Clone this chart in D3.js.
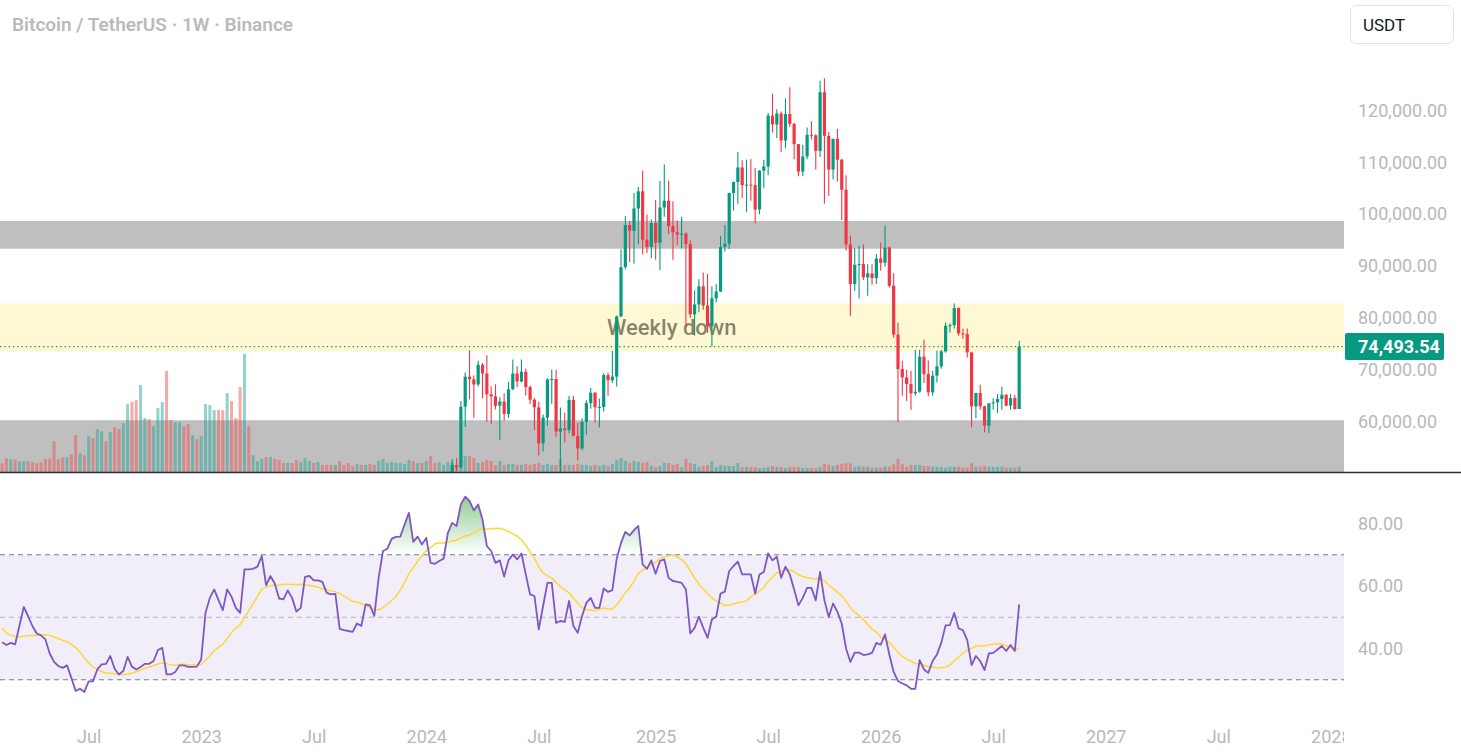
<!DOCTYPE html>
<html>
<head>
<meta charset="utf-8">
<script src="https://cdn.jsdelivr.net/npm/d3@7"></script>
<style>
  html, body { margin: 0; padding: 0; background: #fff; overflow: hidden; }
  svg { display: block; font-family: Roboto, "Noto Sans", sans-serif; }
</style>
</head>
<body>
<script>
// ---- data (BTC/USDT weekly, Binance) ----
const title = "Bitcoin / TetherUS · 1W · Binance";
const firstWeek = "2022-02-14";        // first weekly bar on screen
const candleFirstWeek = "2024-02-12";  // first bar whose candle reaches the visible price range

// weekly volume, thousand BTC
const volume = [
  87,137,127,127,107,107,107,97,87,97,127,137,307,127,147,147,177,367,187,167,
  357,337,427,407,307,397,447,427,487,677,697,717,867,537,527,457,637,697,1007,517,
  497,497,457,477,367,327,357,677,667,617,617,617,787,707,537,847,1177,457,167,107,
  130,150,150,130,120,90,90,90,120,100,140,110,90,100,70,70,70,70,110,70,
  90,60,80,70,70,80,70,110,130,90,100,90,90,80,120,110,90,90,110,160,
  90,100,70,100,
  100,70,120,160,160,140,90,100,120,110,70,110,70,80,80,70,70,80,70,80,
  90,70,80,70,70,130,70,70,70,80,70,70,60,70,60,70,60,80,120,140,
  110,90,110,100,90,100,60,50,60,90,90,70,80,50,130,90,80,50,60,70,
  110,50,70,60,60,60,90,50,50,50,50,40,40,50,60,50,50,40,50,50,
  50,40,40,40,40,50,80,70,60,70,80,
  87,87,53,60,53,53,43,43,43,53,53,77,130,77,53,70,70,70,60,60,
  53,53,53,43,53,53,53,43,43,87,53,53,60,53,53,53,53,43,43,43,53
];
// up(1)/down(0) weeks before the candles enter the price range
const earlyUp = [
  0,0,1,0,1,1,0,0,0,0, 0,0,0,0,0,1,0,0,1,0, 1,0,1,1,0,1,0,0,1,1,
  0,0,1,1,0,1,1,1,0,0, 1,1,0,0,1,0,1,1,1,1, 0,0,1,0,0,0,1,0,1,1,
  1,0,1,0,0,0,1,0,0,1, 1,1,0,1,0,0,0,1,0,0, 0,0,1,0,1,0,0,1,1,1,
  1,1,1,1,1,0,1,0,1,0, 0,1,1,1
];

const open = [
  48300,51660,51250,62900,68700,68200,67200,71000,69300,65300,
  64900,63100,63900,61500,66270,69300,67760,69650,66680,64260,
  62770,55860,60800,68160,68250,58120,58710,58430,64220,57300,
  54870,59990,63600,65600,62800,62850,69000,68000,68700,80300,
  89800,97900,96800,101100,104400,95100,93700,98300,94500,101300,
  102600,97700,96500,96100,96250,94270,80700,82600,86100,82400,
  78400,83800,85100,93700,94300,104100,106200,109000,105600,105700,
  105600,100900,108400,109200,119000,117300,119400,114200,119300,117400,
  113500,108200,111100,115300,115200,112200,123500,115100,108600,114500,
  110500,104700,94200,86530,90250,90400,87820,88590,87690,91470,
  90640,93590,86210,76800,70160,68560,67270,65480,65800,72540,
  69200,65670,68880,70680,73560,78510,78620,81910,77030,76910,
  73370,62980,65540,62980,59260,63560,63750,64390,65220,63110,
  64580,62470
];
const high = [
  52820,52990,64000,69500,73780,68920,71770,71340,72800,66870,
  67230,64730,65500,67700,71980,70690,72000,70200,66990,64530,
  63860,61420,68370,70080,70000,62750,61800,65000,64960,59800,
  60660,64130,66500,65750,64480,69400,69500,73620,80500,93270,
  99590,98700,104090,105250,108350,99960,99000,102720,106420,109590,
  106460,102500,98800,99500,96500,95000,85300,87450,88770,88500,
  86100,86500,95800,97900,104150,106300,111980,110400,110500,110600,
  108900,108500,110500,119500,123220,120200,119800,122300,124470,117600,
  113500,113400,116700,117900,115400,125700,126200,115900,114600,116400,
  110700,107500,95840,93500,93910,94230,90380,90380,92310,94560,
  97770,93800,88600,79150,71770,70030,69840,73880,73880,75810,
  71800,69840,73690,73900,79150,79000,82810,82000,78000,78000,
  73500,65600,67140,63110,63600,64520,65350,66760,65300,65350,
  65220,75600
];
const low = [
  47700,50520,50900,59000,64300,60780,66800,64490,60000,59600,
  62390,56550,60190,60750,66060,66670,67610,65080,63380,58400,
  53490,54260,59200,63460,57120,49000,56080,57790,57200,52550,
  54500,57500,62500,59830,58900,62000,65000,67500,66800,80200,
  89400,90800,90500,94200,92230,92500,91500,91200,89260,99500,
  96200,91230,94100,93400,78260,80000,76610,81100,81600,77100,
  74510,83000,85000,92800,93300,100700,102000,103100,100400,102600,
  98200,100000,105000,107500,115700,114700,112000,112700,116800,110600,
  107300,107300,110600,114400,108600,111000,102000,103500,106700,106300,
  98900,93000,80430,85250,83770,87300,84280,86400,86530,89100,
  89870,85890,76200,59900,65030,64000,62340,65030,65600,67460,
  64900,65030,67590,70200,73300,77200,78000,76580,75940,72410,
  58940,60670,62340,57980,57780,62340,61700,62340,62980,62340,
  62340,62470
];
const close = [
  51660,51250,62900,68700,68200,67200,71000,69300,65300,64900,
  63100,63900,61500,66270,69300,67760,69650,66680,64260,62770,
  55860,60800,68160,68250,58120,58710,58430,64220,57300,54870,
  59990,63600,65600,62800,62850,69000,68000,68700,80300,89800,
  97900,96800,101100,104400,95100,93700,98300,94500,101300,102600,
  97700,96500,96100,96250,94270,80700,82600,86100,82400,78400,
  83800,85100,93700,94300,104100,106200,109000,105600,105700,105600,
  100900,108400,109200,119000,117300,119400,114200,119300,117400,113500,
  108200,111100,115300,115200,112200,123500,115100,108600,114500,110500,
  104700,94200,86530,90250,90400,87820,88590,87690,91470,90640,
  93590,86210,76800,70160,68560,67270,65480,65800,72540,69200,
  65670,68880,70680,73560,78510,78620,81910,77030,76910,73370,
  62980,65540,62980,59260,63560,63750,64390,65220,63110,64580,
  62470,74493.54
];

// RSI(14) per week
const rsi = [
  42.0,41.1,41.8,41.3,47.2,53.3,50.4,47.2,44.8,44.2,
  42.9,38.4,35.7,34.4,33.8,34.6,30.6,26.4,27.1,26.1,
  29.5,29.5,33.3,34.9,35.1,37.6,33.5,31.7,32.8,37.3,
  34.2,33.3,34.1,35.1,35.1,36.0,39.5,40.2,31.7,31.7,
  32.5,34.6,34.6,34.1,34.1,34.2,36.5,51.4,56.2,58.9,
  55.5,52.3,58.9,56.6,53.0,51.4,65.3,65.3,65.5,66.2,
  69.6,60.2,63.2,60.8,56.0,55.7,58.6,56.2,51.8,53.0,
  62.9,63.2,61.8,61.8,61.3,57.8,57.3,57.5,46.3,45.9,
  45.6,45.3,48.0,47.2,54.1,53.8,50.4,62.6,71.2,71.9,
  75.1,75.7,75.8,79.7,83.4,74.1,75.8,73.3,75.4,67.4,
  67.1,68.0,68.7,77.0,80.2,79.2,86.1,88.6,87.2,84.2,86.1,
  81.3,72.8,71.2,67.4,68.2,63.0,68.2,70.1,68.5,70.4,
  63.7,57.3,56.8,46.1,53.6,61.0,61.0,48.2,48.8,48.5,
  55.2,47.2,45.0,50.4,54.6,56.2,53.0,53.0,59.2,58.1,
  58.7,68.7,73.8,77.3,76.2,77.9,79.2,66.9,65.5,68.2,
  63.9,68.0,68.5,62.6,61.6,61.3,61.0,58.9,44.8,46.6,
  50.2,46.6,43.4,49.3,50.2,57.6,58.2,64.8,66.4,67.8,
  63.7,63.7,63.7,57.6,63.7,64.5,70.4,68.2,69.4,62.6,
  66.2,63.7,58.9,53.8,56.2,59.4,59.4,55.4,64.5,55.4,
  50.1,54.4,51.7,48.0,40.0,35.7,38.7,38.7,37.9,38.1,
  38.6,41.8,41.2,44.5,38.1,32.5,29.6,28.8,28.2,27.1,
  27.1,36.3,33.3,32.2,36.0,38.1,41.8,47.4,47.5,51.4,
  46.4,45.9,42.7,34.7,37.6,36.0,33.1,38.4,38.6,39.7,
  40.8,39.2,41.1,39.2,54.1
];
// RSI moving average for the first weeks (its window starts off screen)
const rsiMaHead = [46.6,45.0,44.2,43.9,43.8,43.9,44.1,44.2,44.2,44.3,44.4,44.2,43.7];
const maLength = 14;

// horizontal zones [low, high] in USDT
const resistanceZone = [93350, 98700];
const weeklyZone = [73500, 82830];
const supportZone = [30000, 60300];
const zoneLabel = "Weekly down";
const zoneLabelWeek = "2025-02-01";

const priceTicks = [60000, 70000, 80000, 90000, 100000, 110000, 120000];
const rsiTicks = [40, 60, 80];
const rsiBands = [30, 50, 70];
const timeTicks = [
  ["2022-07-01", "Jul"], ["2023-01-01", "2023"], ["2023-07-01", "Jul"],
  ["2024-01-01", "2024"], ["2024-07-01", "Jul"], ["2025-01-01", "2025"],
  ["2025-07-01", "Jul"], ["2026-01-01", "2026"], ["2026-07-01", "Jul"],
  ["2027-01-01", "2027"], ["2027-07-01", "Jul"], ["2028-01-01", "2028"]
];

// ---- layout ----
const W = 1461, H = 756;
const plotW = 1344;
const mainBottom = 472;
const rsiTop = 474, rsiBottom = 716;
const up = "#089981", down = "#f23645";
const axisColor = "#b8b8b8";

const WEEK = 7 * 864e5;
const t0 = Date.parse(firstWeek);
const weeks = volume.map((v, i) => new Date(t0 + i * WEEK));
const c0 = Math.round((Date.parse(candleFirstWeek) - t0) / WEEK);

const candles = open.map((o, k) => ({
  date: weeks[c0 + k], o: o, h: high[k], l: low[k], c: close[k]
}));
const bars = volume.map((v, i) => ({
  date: weeks[i], v: v,
  up: i < c0 ? earlyUp[i] === 1 : close[i - c0] >= open[i - c0]
}));
const rsiData = rsi.map((r, i) => {
  let ma;
  if (i < maLength - 1) ma = rsiMaHead[i];
  else ma = d3.mean(rsi.slice(i - maLength + 1, i + 1));
  return { date: weeks[i], r: r, ma: ma };
});

// ---- scales ----
const x = d3.scaleUtc()
  .domain([weeks[0], weeks[weeks.length - 1]])
  .range([2.1, 2.1 + (weeks.length - 1) * 4.328]);
const y = d3.scaleLinear().domain([60000, 120000]).range([421.8, 110.4]);
const yVol = d3.scaleLinear().domain([0, d3.max(volume)]).range([mainBottom, mainBottom - 118]);
const yR = d3.scaleLinear().domain([40, 80]).range([648.5, 523.5]);

const svg = d3.select("body").append("svg")
  .attr("width", W).attr("height", H);
svg.append("rect").attr("width", W).attr("height", H).attr("fill", "#fff");

const defs = svg.append("defs");
defs.append("clipPath").attr("id", "clipMain").append("rect")
  .attr("x", 0).attr("y", 0).attr("width", plotW).attr("height", mainBottom);
defs.append("clipPath").attr("id", "clipRsi").append("rect")
  .attr("x", 0).attr("y", rsiTop).attr("width", plotW).attr("height", rsiBottom - rsiTop);
defs.append("clipPath").attr("id", "clipOB").append("rect")
  .attr("x", 0).attr("y", rsiTop).attr("width", plotW).attr("height", yR(70) - rsiTop);
defs.append("clipPath").attr("id", "clipOS").append("rect")
  .attr("x", 0).attr("y", yR(30)).attr("width", plotW).attr("height", rsiBottom - yR(30));
defs.append("clipPath").attr("id", "clipTime").append("rect")
  .attr("x", 0).attr("y", rsiBottom).attr("width", plotW).attr("height", H - rsiBottom);

const gradOB = defs.append("linearGradient").attr("id", "gradOB")
  .attr("gradientUnits", "userSpaceOnUse")
  .attr("x1", 0).attr("x2", 0).attr("y1", yR(100)).attr("y2", yR(70));
gradOB.append("stop").attr("offset", 0).attr("stop-color", "#4caf50").attr("stop-opacity", 1);
gradOB.append("stop").attr("offset", 1).attr("stop-color", "#4caf50").attr("stop-opacity", 0);
const gradOS = defs.append("linearGradient").attr("id", "gradOS")
  .attr("gradientUnits", "userSpaceOnUse")
  .attr("x1", 0).attr("x2", 0).attr("y1", yR(30)).attr("y2", yR(0));
gradOS.append("stop").attr("offset", 0).attr("stop-color", "#ff5252").attr("stop-opacity", 0);
gradOS.append("stop").attr("offset", 1).attr("stop-color", "#ff5252").attr("stop-opacity", 1);

// ---- main pane ----
const main = svg.append("g").attr("clip-path", "url(#clipMain)");

const zoneG = main.append("g");
[[supportZone, "#bfbfbf"], [resistanceZone, "#bfbfbf"], [weeklyZone, "#fef9d3"]].forEach(([z, col]) => {
  zoneG.append("rect")
    .attr("x", 0).attr("width", plotW)
    .attr("y", y(z[1])).attr("height", y(z[0]) - y(z[1]))
    .attr("fill", col);
});
zoneG.append("text")
  .attr("x", x(new Date(zoneLabelWeek)))
  .attr("y", y((weeklyZone[0] + weeklyZone[1]) / 2))
  .attr("dy", "0.35em")
  .attr("text-anchor", "middle")
  .attr("font-size", 22).attr("font-weight", 500)
  .attr("fill", "#2b2a1c").attr("fill-opacity", 0.58)
  .text(zoneLabel);

main.append("g").selectAll("rect").data(bars).join("rect")
  .attr("x", d => x(d.date) - 1.5).attr("width", 3)
  .attr("y", d => yVol(d.v)).attr("height", d => mainBottom - yVol(d.v))
  .attr("fill", d => d.up ? "#26a69a" : "#ef5350")
  .attr("fill-opacity", 0.5);

// last price line
const last = candles[candles.length - 1];
main.append("line")
  .attr("x1", 0).attr("x2", plotW)
  .attr("y1", y(last.c)).attr("y2", y(last.c))
  .attr("stroke", up).attr("stroke-width", 1.4)
  .attr("stroke-dasharray", "1.4,2.9");

const cg = main.append("g").selectAll("g").data(candles).join("g");
cg.append("line")
  .attr("x1", d => x(d.date)).attr("x2", d => x(d.date))
  .attr("y1", d => y(d.h)).attr("y2", d => y(d.l))
  .attr("stroke", d => d.c >= d.o ? up : down).attr("stroke-width", 1.1);
cg.append("rect")
  .attr("x", d => x(d.date) - 1.6).attr("width", 3.2)
  .attr("y", d => y(Math.max(d.o, d.c)))
  .attr("height", d => Math.max(1, Math.abs(y(d.o) - y(d.c))))
  .attr("fill", d => d.c >= d.o ? up : down);

// pane separator
svg.append("line")
  .attr("x1", 0).attr("x2", W).attr("y1", mainBottom + 0.5).attr("y2", mainBottom + 0.5)
  .attr("stroke", "#2a2e39").attr("stroke-width", 1.6);

// ---- RSI pane ----
const rg = svg.append("g").attr("clip-path", "url(#clipRsi)");
rg.append("rect")
  .attr("x", 0).attr("width", plotW)
  .attr("y", yR(70)).attr("height", yR(30) - yR(70))
  .attr("fill", "#7e57c2").attr("fill-opacity", 0.1);
rsiBands.forEach(b => {
  rg.append("line")
    .attr("x1", 0).attr("x2", plotW).attr("y1", yR(b)).attr("y2", yR(b))
    .attr("stroke", "#787b86").attr("stroke-opacity", b === 50 ? 0.5 : 1)
    .attr("stroke-width", 1.2).attr("stroke-dasharray", "5,4");
});

rg.append("path").datum(rsiData)
  .attr("clip-path", "url(#clipOB)")
  .attr("fill", "url(#gradOB)")
  .attr("d", d3.area().x(d => x(d.date)).y0(yR(70)).y1(d => yR(d.r)));
rg.append("path").datum(rsiData)
  .attr("clip-path", "url(#clipOS)")
  .attr("fill", "url(#gradOS)")
  .attr("d", d3.area().x(d => x(d.date)).y0(yR(30)).y1(d => yR(d.r)));

rg.append("path").datum(rsiData)
  .attr("fill", "none").attr("stroke", "#fdd835").attr("stroke-width", 1.5)
  .attr("d", d3.line().x(d => x(d.date)).y(d => yR(d.ma)));
rg.append("path").datum(rsiData)
  .attr("fill", "none").attr("stroke", "#7e57c2").attr("stroke-width", 1.8)
  .attr("stroke-linejoin", "round")
  .attr("d", d3.line().x(d => x(d.date)).y(d => yR(d.r)));

// ---- axes ----
function styleAxis(g) {
  g.select(".domain").remove();
  g.attr("font-size", 18).attr("font-family", null).attr("color", axisColor);
}
svg.append("g").attr("transform", `translate(${plotW},0)`)
  .call(d3.axisRight(y).tickValues(priceTicks).tickFormat(d3.format(",.2f")).tickSize(0).tickPadding(14))
  .call(styleAxis);
svg.append("g").attr("transform", `translate(${plotW},0)`)
  .call(d3.axisRight(yR).tickValues(rsiTicks).tickFormat(d3.format(".2f")).tickSize(0).tickPadding(14))
  .call(styleAxis);

const tickDates = timeTicks.map(t => d3.utcMonday.ceil(new Date(t[0])));
svg.append("g").attr("clip-path", "url(#clipTime)")
  .append("g").attr("transform", "translate(0,720)")
  .call(d3.axisBottom(x).tickValues(tickDates)
    .tickFormat((d, i) => timeTicks[i][1]).tickSize(0).tickPadding(10))
  .call(styleAxis);

// last price label
const pl = svg.append("g").attr("transform", `translate(${plotW + 1},${y(last.c)})`);
pl.append("rect").attr("x", 0).attr("y", -13.5).attr("width", 99).attr("height", 27)
  .attr("rx", 2).attr("fill", up);
pl.append("text").attr("x", 13).attr("dy", "0.35em")
  .attr("font-size", 18).attr("font-weight", 700).attr("fill", "#fff")
  .text(d3.format(",.2f")(last.c));

// title and currency button
svg.append("text").attr("x", 12).attr("y", 30.5)
  .attr("font-size", 19).attr("font-weight", 600).attr("fill", "#bababa")
  .text(title);
svg.append("rect").attr("x", 1350.5).attr("y", 5.5).attr("width", 103).attr("height", 38)
  .attr("rx", 6).attr("fill", "#fff").attr("stroke", "#e0e3eb");
svg.append("text").attr("x", 1363).attr("y", 30.5)
  .attr("font-size", 17).attr("fill", "#131722")
  .text("USDT");
</script>
</body>
</html>
